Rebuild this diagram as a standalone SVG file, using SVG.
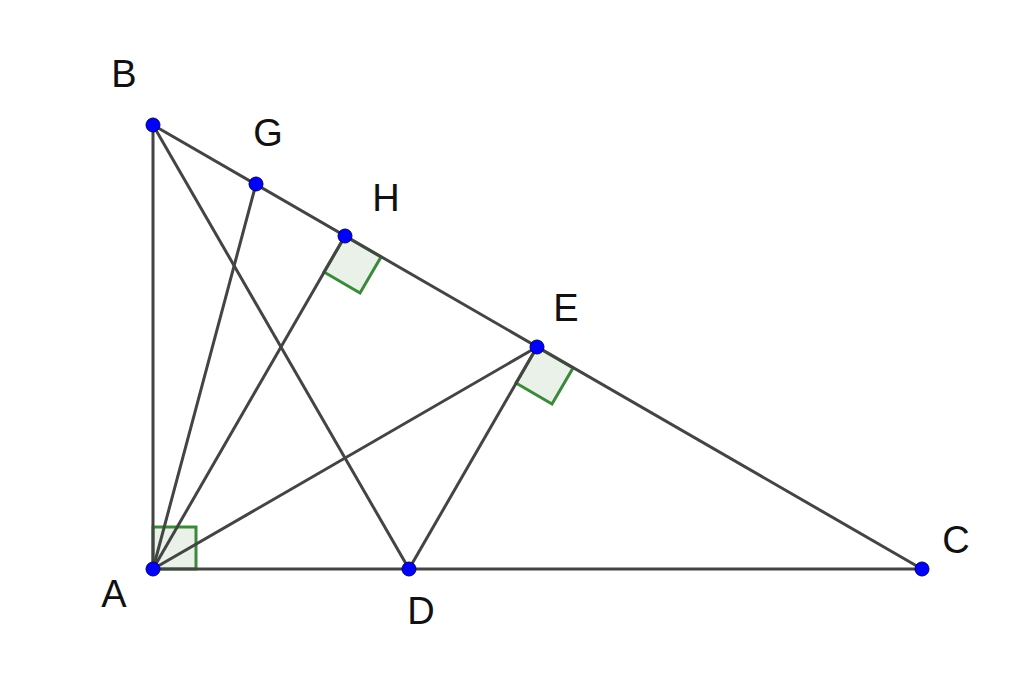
<svg xmlns="http://www.w3.org/2000/svg" width="1024" height="675" viewBox="0 0 1024 675">
<style>
.l{stroke:#444;stroke-width:3;fill:none}
.ra{fill:#e3ede3;stroke:#3a8a3a;stroke-width:3;fill-opacity:0.8}
.p{fill:#0000ff;stroke:#00006a;stroke-width:1}
text{font-family:"Liberation Sans",Arial,sans-serif;font-size:38px;fill:#111;text-anchor:middle}
</style>
<rect width="1024" height="675" fill="#fff"/>
<g id="angles">
<path class="ra" d="M153,527 L196,527 L196,569 L153,569 Z"/>
<path class="ra" d="M345,236 L381,257 L360,293 L324,272 Z"/>
<path class="ra" d="M537,347 L573,368 L552,404 L516,383 Z"/>
</g>
<g id="connectors">
<line class="l" x1="153" y1="125" x2="153" y2="569"/>
<line class="l" x1="153" y1="569" x2="922" y2="569"/>
<line class="l" x1="153" y1="125" x2="922" y2="569"/>
<line class="l" x1="153" y1="125" x2="409" y2="569"/>
<line class="l" x1="153" y1="569" x2="256" y2="184"/>
<line class="l" x1="153" y1="569" x2="345" y2="236"/>
<line class="l" x1="153" y1="569" x2="537" y2="347"/>
<line class="l" x1="409" y1="569" x2="537" y2="347"/>
</g>
<g id="A"><circle class="p" cx="153" cy="569" r="7"/><text x="114" y="607">A</text></g>
<g id="B"><circle class="p" cx="153" cy="125" r="7"/><text x="124" y="87">B</text></g>
<g id="C"><circle class="p" cx="922" cy="569" r="7"/><text x="956" y="553">C</text></g>
<g id="D"><circle class="p" cx="409" cy="569" r="7"/><text x="421" y="624">D</text></g>
<g id="E"><circle class="p" cx="537" cy="347" r="7"/><text x="566" y="321">E</text></g>
<g id="G"><circle class="p" cx="256" cy="184" r="7"/><text x="268" y="146">G</text></g>
<g id="H"><circle class="p" cx="345" cy="236" r="7"/><text x="386" y="211">H</text></g>
</svg>
